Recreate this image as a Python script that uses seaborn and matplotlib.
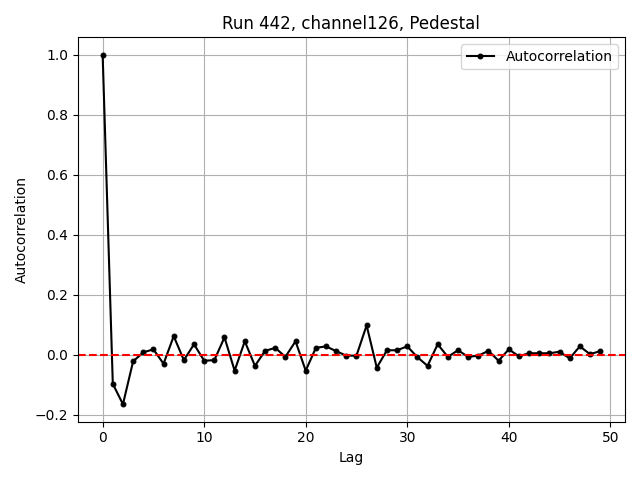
"""
Autocorrelation of pedestal, run 442 channel 126
"""

import matplotlib
matplotlib.use("Agg")
import matplotlib.pyplot as plt
import seaborn as sns

lags = list(range(50))
autocorr = [
    1.0, -0.097, -0.165, -0.022, 0.008, 0.018, -0.03, 0.062, -0.018, 0.035,
    -0.02, -0.018, 0.058, -0.053, 0.045, -0.037, 0.013, 0.023, -0.007, 0.045,
    -0.053, 0.023, 0.028, 0.012, -0.003, -0.003, 0.098, -0.043, 0.015, 0.015,
    0.028, -0.008, -0.037, 0.035, -0.007, 0.015, -0.007, -0.003, 0.013, -0.02,
    0.018, -0.005, 0.005, 0.005, 0.005, 0.01, -0.012, 0.028, 0.002, 0.012,
]

fig, ax = plt.subplots(figsize=(6.4, 4.8), dpi=100)
sns.lineplot(x=lags, y=autocorr, color="black", marker=".", markersize=7,
             markeredgecolor="black", label="Autocorrelation", ax=ax)
ax.axhline(0, color="red", linestyle="--")
ax.set_xlabel("Lag")
ax.set_ylabel("Autocorrelation")
ax.set_title("Run 442, channel126, Pedestal")
ax.grid(True)
ax.legend(loc="upper right")
fig.tight_layout()
fig.savefig("out.png")
